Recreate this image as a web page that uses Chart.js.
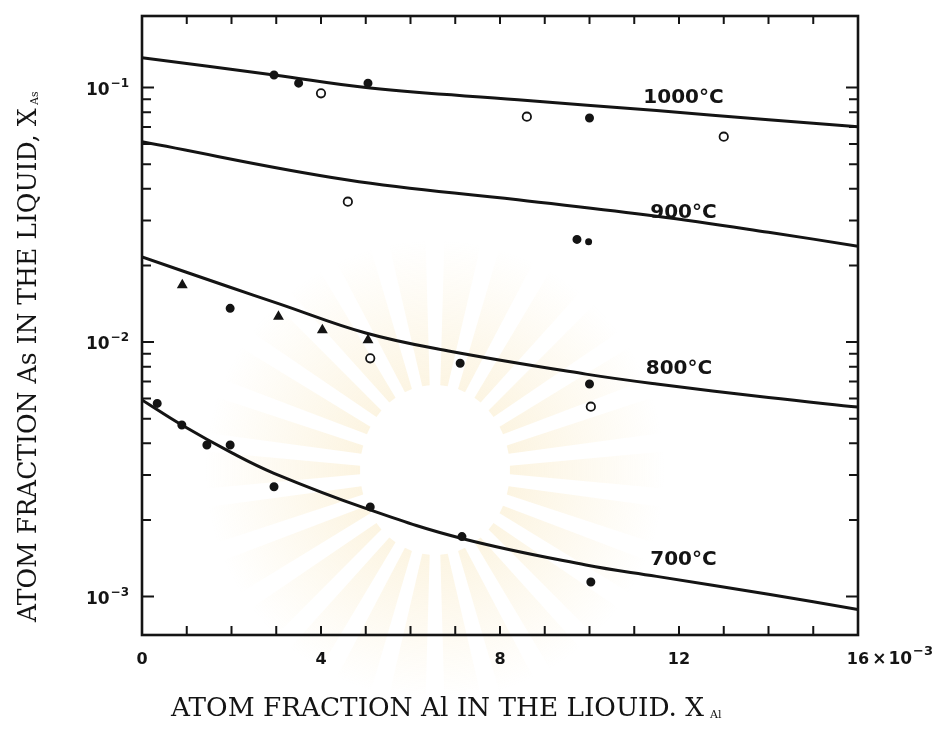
<!DOCTYPE html>
<html>
<head>
<meta charset="utf-8">
<script src="https://cdn.jsdelivr.net/npm/chart.js@4.4.1/dist/chart.umd.min.js"></script>
<style>
  html, body { margin: 0; padding: 0; background: #ffffff; }
  #wrap { width: 947px; height: 740px; }
</style>
</head>
<body>
<div id="wrap"><canvas id="c" width="947" height="740"></canvas></div>
<script>
// Arsenic solubility in Ga-Al-As liquid vs. Al content, four isotherms.
// x values are in units of 10^-3 atom fraction Al.

const tempLabels = ['1000°C', '900°C', '800°C', '700°C'];

// Experimental points
const x1000 = [2.95, 3.5, 4.0, 5.05, 8.6, 10.0, 13.0];
const y1000 = [0.112, 0.104, 0.0949, 0.104, 0.0768, 0.0759, 0.0641];
const m1000 = ['dot', 'dot', 'open', 'dot', 'open', 'dot', 'open'];

const x900 = [4.6, 9.72, 9.98];
const y900 = [0.0356, 0.0253, 0.0248];
const m900 = ['open', 'dot', 'small'];

const x800 = [0.9, 1.97, 3.05, 4.03, 5.05, 5.1, 7.11, 10.0, 10.03];
const y800 = [0.01675, 0.01356, 0.01258, 0.01115, 0.01018, 0.00863, 0.00825, 0.00684, 0.00557];
const m800 = ['tri', 'dot', 'tri', 'tri', 'tri', 'open', 'dot', 'dot', 'open'];

const x700 = [0.34, 0.89, 1.45, 1.97, 2.95, 5.1, 7.15, 10.03];
const y700 = [0.00574, 0.00472, 0.00394, 0.00394, 0.0027, 0.00225, 0.00172, 0.00114];
const m700 = ['dot', 'dot', 'dot', 'dot', 'dot', 'dot', 'dot', 'dot'];

// Calculated liquidus isotherms
const cx1000 = [0, 2.95, 5.1, 8.4, 11.5, 14.0, 16];
const cy1000 = [0.131, 0.112, 0.0995, 0.0895, 0.0812, 0.0747, 0.0702];

const cx900 = [0, 4.6, 8.4, 11.5, 14.0, 16];
const cy900 = [0.0612, 0.0433, 0.0362, 0.0312, 0.0270, 0.0238];

const cx800 = [0, 1.92, 3.05, 5.0, 6.85, 9.92, 11.5, 14.0, 16];
const cy800 = [0.0216, 0.01652, 0.01416, 0.01085, 0.00922, 0.00748, 0.00684, 0.00605, 0.00555];

const cx700 = [0, 0.89, 2.02, 2.95, 5.0, 7.15, 9.92, 11.5, 14.0, 16];
const cy700 = [0.00592, 0.00472, 0.00366, 0.00305, 0.00222, 0.00169, 0.00133, 0.0012, 0.00102, 0.00089];

// Isotherm label anchors (centre of text)
const labelX = [12.1, 12.1, 12.0, 12.1];
const labelY = [0.0910, 0.0322, 0.00783, 0.00139];

// Axis ticks
const xTicks = [0, 1, 2, 3, 4, 5, 6, 7, 8, 9, 10, 11, 12, 13, 14, 15, 16];
const xTickLabels = { 0: '0', 4: '4', 8: '8', 12: '12', 16: '16' };
const yTicks = [0.001, 0.002, 0.003, 0.004, 0.005, 0.006, 0.007, 0.008, 0.009,
                0.01, 0.02, 0.03, 0.04, 0.05, 0.06, 0.07, 0.08, 0.09, 0.1];
const yDecades = [0.001, 0.01, 0.1];
const yDecadeExp = ['−3', '−2', '−1'];

const xTitle = 'ATOM FRACTION Al IN THE LIOUID. X';
const xTitleSub = 'Al';
const yTitle = 'ATOM FRACTION As IN THE LIQUID, X';
const yTitleSub = 'As';

const INK = '#141414';

function pts(xs, ys) { return xs.map((x, i) => ({ x: x, y: ys[i] })); }

function markerStyle(kind) {
  switch (kind) {
    case 'open':  return { style: 'circle', r: 4.2, bg: '#ffffff' };
    case 'tri':   return { style: 'triangle', r: 4.5, bg: INK };
    case 'small': return { style: 'circle', r: 2.6, bg: INK };
    default:      return { style: 'circle', r: 3.6, bg: INK };
  }
}

function pointSet(xs, ys, kinds) {
  const m = kinds.map(markerStyle);
  return {
    type: 'scatter',
    data: pts(xs, ys),
    showLine: false,
    pointStyle: m.map(s => s.style),
    pointRadius: m.map(s => s.r),
    pointBackgroundColor: m.map(s => s.bg),
    pointBorderColor: INK,
    pointBorderWidth: 1.8,
    order: 0
  };
}

function curveSet(xs, ys) {
  return {
    type: 'line',
    data: pts(xs, ys),
    showLine: true,
    borderColor: INK,
    borderWidth: 3,
    pointRadius: 0,
    tension: 0.4,
    fill: false,
    order: 1
  };
}

// Faint sunburst emblem printed behind the plot
const emblem = {
  id: 'emblem',
  beforeDraw(chart) {
    const { ctx } = chart;
    const cx = 435, cy = 470;
    ctx.save();
    const g = ctx.createRadialGradient(cx, cy, 50, cx, cy, 230);
    g.addColorStop(0, 'rgba(244, 214, 140, 0.30)');
    g.addColorStop(1, 'rgba(244, 214, 140, 0)');
    ctx.fillStyle = g;
    const n = 26;
    for (let i = 0; i < n; i++) {
      const a = (i / n) * Math.PI * 2;
      const da = 0.05;
      ctx.beginPath();
      ctx.moveTo(cx + Math.cos(a - da) * 75, cy + Math.sin(a - da) * 85);
      ctx.lineTo(cx + Math.cos(a - da * 1.6) * 230, cy + Math.sin(a - da * 1.6) * 230);
      ctx.lineTo(cx + Math.cos(a + da * 1.6) * 230, cy + Math.sin(a + da * 1.6) * 230);
      ctx.lineTo(cx + Math.cos(a + da) * 75, cy + Math.sin(a + da) * 85);
      ctx.closePath();
      ctx.fill();
    }
    ctx.restore();
  }
};

// Frame with inward tick marks on all four sides, plus decade labels
const frameTicks = {
  id: 'frameTicks',
  afterDatasetsDraw(chart) {
    const { ctx, chartArea: a, scales: { x, y } } = chart;
    ctx.save();
    ctx.strokeStyle = INK;
    ctx.lineWidth = 2.6;
    ctx.strokeRect(a.left, a.top, a.right - a.left, a.bottom - a.top);
    ctx.lineWidth = 2;
    ctx.beginPath();
    x.ticks.forEach(t => {
      const px = x.getPixelForValue(t.value);
      if (px <= a.left + 2 || px >= a.right - 2) return;
      ctx.moveTo(px, a.bottom); ctx.lineTo(px, a.bottom - 9);
      ctx.moveTo(px, a.top); ctx.lineTo(px, a.top + 8);
    });
    y.ticks.forEach(t => {
      const py = y.getPixelForValue(t.value);
      const len = yDecades.includes(t.value) ? 12 : 9;
      ctx.moveTo(a.left, py); ctx.lineTo(a.left + len, py);
      ctx.moveTo(a.right, py); ctx.lineTo(a.right - len, py);
    });
    ctx.stroke();

    // decade labels: "10" with a raised exponent
    ctx.fillStyle = INK;
    ctx.textBaseline = 'alphabetic';
    ctx.textAlign = 'right';
    const rightEdge = a.left - 13;
    yDecades.forEach((v, i) => {
      const py = y.getPixelForValue(v);
      ctx.font = 'bold 12px "DejaVu Sans"';
      const ew = ctx.measureText(yDecadeExp[i]).width;
      ctx.fillText(yDecadeExp[i], rightEdge, py - 1);
      ctx.font = 'bold 17px "DejaVu Sans"';
      ctx.fillText('10', rightEdge - ew - 1, py + 7);
    });
    ctx.restore();
  }
};

// Isotherm labels, axis titles and the x-axis multiplier
const annotations = {
  id: 'annotations',
  afterDraw(chart) {
    const { ctx, scales: { x, y } } = chart;
    ctx.save();
    ctx.fillStyle = INK;

    ctx.font = 'bold 20px "DejaVu Sans"';
    ctx.textAlign = 'center';
    ctx.textBaseline = 'middle';
    tempLabels.forEach((t, i) => {
      ctx.fillText(t, x.getPixelForValue(labelX[i]), y.getPixelForValue(labelY[i]));
    });

    // multiplier after the last x tick label
    ctx.font = 'bold 16px "DejaVu Sans"';
    const px16 = x.getPixelForValue(16);
    const w16 = ctx.measureText('16').width;
    ctx.textAlign = 'left';
    ctx.textBaseline = 'alphabetic';
    let cx = px16 + w16 / 2 + 3;
    ctx.font = 'bold 17px "DejaVu Sans"';
    ctx.fillText('×', cx, 664);
    cx += ctx.measureText('×').width + 2;
    ctx.fillText('10', cx, 664);
    cx += ctx.measureText('10').width + 1;
    ctx.font = 'bold 13px "DejaVu Sans"';
    ctx.fillText('−3', cx, 655);

    // x-axis title
    ctx.font = '22px "DejaVu Serif"';
    const xw = ctx.measureText(xTitle).width;
    const xs = 533 / xw;
    ctx.font = (22 * xs).toFixed(1) + 'px "DejaVu Serif"';
    ctx.fillText(xTitle, 171, 716);
    ctx.font = '11px "DejaVu Serif"';
    ctx.fillText(xTitleSub, 171 + 533 + 6, 718);

    // y-axis title, reading upward
    ctx.save();
    ctx.translate(36, 622);
    ctx.rotate(-Math.PI / 2);
    ctx.font = '22px "DejaVu Serif"';
    const yw = ctx.measureText(yTitle).width;
    const ys = 514 / yw;
    ctx.font = (22 * ys).toFixed(1) + 'px "DejaVu Serif"';
    ctx.fillText(yTitle, 0, 0);
    ctx.font = '11px "DejaVu Serif"';
    ctx.fillText(yTitleSub, 514 + 3, 2);
    ctx.restore();

    ctx.restore();
  }
};

new Chart(document.getElementById('c'), {
  type: 'scatter',
  data: {
    datasets: [
      curveSet(cx1000, cy1000), curveSet(cx900, cy900), curveSet(cx800, cy800), curveSet(cx700, cy700),
      pointSet(x1000, y1000, m1000), pointSet(x900, y900, m900), pointSet(x800, y800, m800), pointSet(x700, y700, m700)
    ]
  },
  options: {
    responsive: false,
    animation: false,
    events: [],
    layout: { padding: { left: 0, right: 89, top: 16, bottom: 0 } },
    plugins: { legend: { display: false }, tooltip: { enabled: false } },
    scales: {
      x: {
        type: 'linear',
        min: 0, max: 16,
        border: { display: false },
        grid: { display: false, drawTicks: false },
        afterBuildTicks: s => { s.ticks = xTicks.map(v => ({ value: v })); },
        afterFit: s => { s.height = 105; },
        ticks: {
          autoSkip: false, maxRotation: 0, padding: 15, color: INK,
          font: { family: 'DejaVu Sans', size: 16, weight: 'bold' },
          callback: v => (xTickLabels[v] !== undefined ? xTickLabels[v] : '')
        }
      },
      y: {
        type: 'logarithmic',
        min: 0.000706, max: 0.191,
        border: { display: false },
        grid: { display: false, drawTicks: false },
        afterBuildTicks: s => { s.ticks = yTicks.map(v => ({ value: v })); },
        afterFit: s => { s.width = 142; },
        ticks: { display: false }
      }
    }
  },
  plugins: [emblem, frameTicks, annotations]
});
</script>
</body>
</html>
